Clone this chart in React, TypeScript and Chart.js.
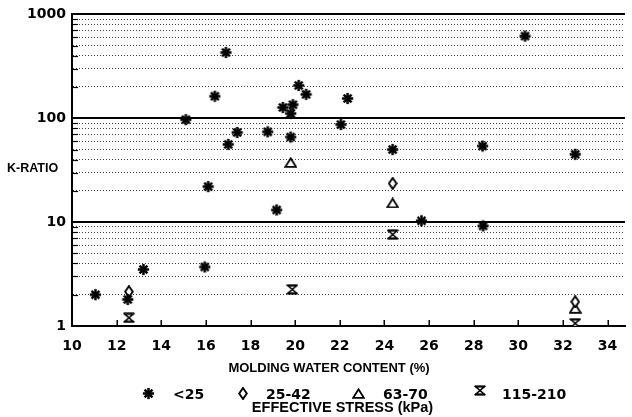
import React, { useEffect, useRef } from 'react';
import { Chart, registerables } from 'chart.js';

Chart.register(...registerables);

// ---- data ----
const seriesLabels = ['<25', '25-42', '63-70', '115-210'];

const lt25X = [11.05, 12.5, 13.2, 15.95, 15.1, 16.1, 16.4, 16.9, 17.0, 17.4, 18.77, 19.17, 19.45, 19.9, 19.8, 19.8, 20.16, 20.49, 22.05, 22.35, 24.37, 25.66, 28.42, 28.4, 30.3, 32.55];
const lt25Y = [2.0, 1.8, 3.5, 3.7, 97, 22, 163, 430, 56, 73, 74, 13.1, 127, 135, 111, 66, 207, 170, 87, 155, 50, 10.3, 9.2, 54, 618, 45];

const s2542X = [12.55, 24.37, 32.55];
const s2542Y = [2.14, 23.6, 1.71];

const s6370X = [19.8, 24.37, 32.55];
const s6370Y = [37.5, 15.3, 1.48];

const s115X = [12.55, 19.87, 24.37, 32.55];
const s115Y = [1.2, 2.25, 7.6, 1.06];

const xTickValues = [10, 12, 14, 16, 18, 20, 22, 24, 26, 28, 30, 32, 34];
const yLabelValues = [1, 10, 100, 1000];

const xTitle = 'MOLDING WATER CONTENT (%)';
const yTitle = 'K-RATIO';
const legendTitle = 'EFFECTIVE STRESS (kPa)';

// ---- markers ----
function makeMarker(kind: string): HTMLCanvasElement {
  const c = document.createElement('canvas');
  const sizes: Record<string, [number, number]> = {
    star: [13, 13],
    diamond: [10, 13],
    triangle: [13, 11],
    hourglass: [12, 11],
  };
  const [w, h] = sizes[kind];
  c.width = w;
  c.height = h;
  const ctx = c.getContext('2d')!;
  ctx.strokeStyle = '#000';
  ctx.fillStyle = '#fff';
  if (kind === 'star') {
    ctx.lineWidth = 2.5;
    const cx = 6.5, cy = 6.5, r = 5.6;
    for (let i = 0; i < 4; i++) {
      const a = (i * Math.PI) / 4;
      ctx.beginPath();
      ctx.moveTo(cx - Math.cos(a) * r, cy - Math.sin(a) * r);
      ctx.lineTo(cx + Math.cos(a) * r, cy + Math.sin(a) * r);
      ctx.stroke();
    }
    ctx.fillStyle = '#000';
    ctx.beginPath();
    ctx.arc(cx, cy, 2.8, 0, Math.PI * 2);
    ctx.fill();
  } else if (kind === 'diamond') {
    ctx.lineWidth = 1.9;
    ctx.beginPath();
    ctx.moveTo(5, 1);
    ctx.lineTo(8.8, 6.5);
    ctx.lineTo(5, 12);
    ctx.lineTo(1.2, 6.5);
    ctx.closePath();
    ctx.fill();
    ctx.stroke();
  } else if (kind === 'triangle') {
    ctx.lineWidth = 1.8;
    ctx.beginPath();
    ctx.moveTo(6.5, 1.3);
    ctx.lineTo(11.8, 9.8);
    ctx.lineTo(1.2, 9.8);
    ctx.closePath();
    ctx.fill();
    ctx.stroke();
  } else {
    ctx.lineWidth = 1.6;
    ctx.beginPath();
    ctx.moveTo(1.5, 1.5);
    ctx.lineTo(10.5, 1.5);
    ctx.lineTo(1.5, 9.5);
    ctx.lineTo(10.5, 9.5);
    ctx.closePath();
    ctx.fill();
    ctx.stroke();
    ctx.fillStyle = '#000';
    ctx.fillRect(1, 0.5, 10, 2);
    ctx.fillRect(1, 8.5, 10, 2);
  }
  return c;
}

const isPow10 = (v: number) => {
  const l = Math.log10(v);
  return Math.abs(l - Math.round(l)) < 1e-9;
};

const BOLD_SANS = '"Liberation Sans", Arial, sans-serif';
const WIDE = '"DejaVu Sans", sans-serif';

export default function App() {
  const ref = useRef<HTMLCanvasElement | null>(null);

  useEffect(() => {
    document.body.style.margin = '0';
    const canvas = ref.current!;
    const markers = [makeMarker('star'), makeMarker('diamond'), makeMarker('triangle'), makeMarker('hourglass')];
    const toPts = (xs: number[], ys: number[]) => xs.map((x, i) => ({ x, y: ys[i] }));
    const seriesData = [toPts(lt25X, lt25Y), toPts(s2542X, s2542Y), toPts(s6370X, s6370Y), toPts(s115X, s115Y)];

    const decorPlugin = {
      id: 'decor',
      beforeDatasetsDraw(chart: any) {
        const { ctx, chartArea } = chart;
        const xs = chart.scales.x;
        const ys = chart.scales.y;
        ctx.save();
        ctx.strokeStyle = '#000';
        ctx.lineWidth = 1.5;
        xTickValues.forEach((v) => {
          if (v === 10) return;
          const px = Math.round(xs.getPixelForValue(v)) + 0.25;
          ctx.beginPath();
          ctx.moveTo(px, chartArea.bottom);
          ctx.lineTo(px, chartArea.bottom - 6);
          ctx.stroke();
        });
        ctx.lineWidth = 1.2;
        ys.ticks.forEach((t: any) => {
          if (isPow10(t.value)) return;
          const py = Math.round(ys.getPixelForValue(t.value)) + 0.5;
          ctx.beginPath();
          ctx.moveTo(chartArea.left, py);
          ctx.lineTo(chartArea.left + 6, py);
          ctx.stroke();
        });
        ctx.restore();
      },
      afterDraw(chart: any) {
        const { ctx } = chart;
        ctx.save();
        ctx.fillStyle = '#000';
        ctx.textBaseline = 'alphabetic';
        ctx.font = 'bold 12.5px ' + BOLD_SANS;
        ctx.textAlign = 'left';
        ctx.fillText(yTitle, 7, 172);
        ctx.font = 'bold 13px ' + BOLD_SANS;
        ctx.textAlign = 'center';
        ctx.fillText(xTitle, 329, 372);
        const markerX = [148, 243, 358, 480];
        const textX = [173, 266, 383, 502];
        ctx.font = 'bold 14px ' + WIDE;
        ctx.textAlign = 'left';
        chart.data.datasets.forEach((ds: any, i: number) => {
          const img = ds.pointStyle as HTMLCanvasElement;
          const my = i === 3 ? 390 : 393;
          ctx.drawImage(img, Math.round(markerX[i] - img.width / 2), Math.round(my - img.height / 2));
          ctx.fillText(ds.label, textX[i], 399);
        });
        ctx.font = 'bold 14.5px ' + BOLD_SANS;
        ctx.textAlign = 'center';
        ctx.fillText(legendTitle, 342.5, 412);
        ctx.restore();
      },
    };

    const chart = new Chart(canvas, {
      type: 'scatter',
      data: {
        datasets: seriesLabels.map((label, i) => ({
          label,
          data: seriesData[i],
          pointStyle: markers[i] as any,
          pointRadius: 6,
          showLine: false,
        })),
      },
      options: {
        animation: false,
        responsive: false,
        events: [],
        layout: { padding: { top: 14, left: 0, right: 0, bottom: 0 } },
        plugins: {
          legend: { display: false },
          tooltip: { enabled: false },
          title: { display: false },
        },
        scales: {
          x: {
            type: 'linear',
            min: 10,
            max: 34.78,
            afterBuildTicks: (scale: any) => {
              scale.ticks = xTickValues.map((v) => ({ value: v }));
            },
            afterFit: (scale: any) => {
              scale.height = 91;
            },
            grid: { display: false, drawTicks: false },
            border: { display: true, color: '#000', width: 2 },
            ticks: {
              color: '#000',
              padding: 12,
              autoSkip: false,
              maxRotation: 0,
              font: { family: WIDE, weight: 700, size: 14 },
            },
          },
          y: {
            type: 'logarithmic',
            min: 1,
            max: 1000,
            afterBuildTicks: (scale: any) => {
              const t: any[] = [];
              for (let d = 1; d < 1000; d *= 10) {
                for (let m = 1; m < 10; m++) t.push({ value: m * d, major: m === 1 });
              }
              t.push({ value: 1000, major: true });
              scale.ticks = t;
            },
            afterFit: (scale: any) => {
              scale.width = 72;
            },
            grid: {
              drawTicks: false,
              color: (c: any) => (c.tick && isPow10(c.tick.value) ? '#000' : 'rgba(0,0,0,0.75)'),
              lineWidth: (c: any) => (c.tick && isPow10(c.tick.value) ? 2 : 1),
            },
            border: {
              display: true,
              color: '#000',
              width: 2,
              dash: (c: any) => (c.tick && !isPow10(c.tick.value) ? [1, 2] : []),
            } as any,
            ticks: {
              color: '#000',
              padding: 6,
              autoSkip: false,
              font: { family: WIDE, weight: 700, size: 14 },
              callback: (v: any) => (yLabelValues.includes(Number(v)) ? String(v) : ''),
            },
          },
        },
      },
      plugins: [decorPlugin],
    } as any);

    return () => chart.destroy();
  }, []);

  return (
    <div style={{ width: 632, height: 417 }}>
      <canvas ref={ref} width={632} height={417} style={{ display: 'block' }} />
    </div>
  );
}
